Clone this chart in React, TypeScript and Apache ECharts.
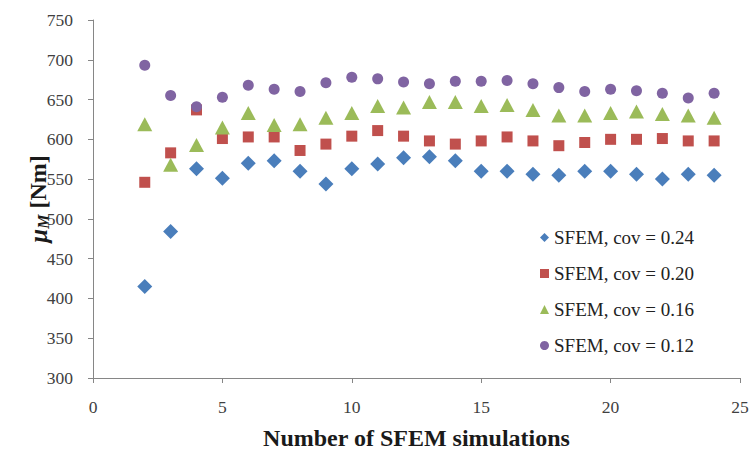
import React, { useEffect, useRef } from "react";
import * as echarts from "echarts";

const simulations = [2, 3, 4, 5, 6, 7, 8, 9, 10, 11, 12, 13, 14, 15, 16, 17, 18, 19, 20, 21, 22, 23, 24];
const cov024 = [415, 484, 563, 551, 570, 573, 560, 544, 563, 569, 577, 578, 573, 560, 560, 556, 555, 560, 560, 556, 550, 556, 555];
const cov020 = [546, 583, 637, 601, 603, 603, 586, 594, 604, 611, 604, 598, 594, 598, 603, 598, 592, 596, 600, 600, 601, 598, 598];
const cov016 = [619, 568, 593, 615, 633, 618, 619, 627, 633, 642, 640, 647, 647, 642, 643, 637, 630, 630, 633, 635, 632, 630, 627];
const cov012 = [693, 655, 641, 653, 668, 663, 660, 671, 678, 676, 672, 670, 673, 673, 674, 670, 665, 660, 663, 661, 658, 652, 658];

const seriesNames = ["SFEM, cov = 0.24", "SFEM, cov = 0.20", "SFEM, cov = 0.16", "SFEM, cov = 0.12"];
const xTicks = [0, 5, 10, 15, 20, 25];
const yTicks = [300, 350, 400, 450, 500, 550, 600, 650, 700, 750];

const FONT = "'Liberation Serif', 'DejaVu Serif', serif";

export default function App() {
  const ref = useRef<HTMLDivElement>(null);
  useEffect(() => {
    if (!ref.current) return;
    const chart = echarts.init(ref.current, null, { renderer: "svg" });
    const pairs = (ys: number[]) => simulations.map((x, i) => [x, ys[i]]);
    const defs = [
      { name: seriesNames[0], data: cov024, symbol: "diamond", size: 15, color: "#4A7EBB" },
      { name: seriesNames[1], data: cov020, symbol: "rect", size: 11, color: "#C0504D" },
      { name: seriesNames[2], data: cov016, symbol: "triangle", size: [15, 14], color: "#9BBB59" },
      { name: seriesNames[3], data: cov012, symbol: "circle", size: 11, color: "#8064A2" },
    ];
    chart.setOption({
      animation: false,
      grid: { left: 93, right: 11, top: 20, bottom: 72, outerBoundsMode: "none", containLabel: false },
      legend: {
        orient: "vertical",
        left: 535,
        top: 223,
        itemWidth: 9,
        itemHeight: 9,
        itemGap: 17,
        data: defs.map((d) => ({ name: d.name, icon: d.symbol })),
        textStyle: { fontFamily: FONT, fontSize: 19, color: "#222", lineHeight: 19 },
      },
      xAxis: {
        type: "value",
        min: xTicks[0],
        max: xTicks[xTicks.length - 1],
        interval: 5,
        splitLine: { show: false },
        axisLine: { lineStyle: { color: "#868686", width: 1 } },
        axisTick: { show: true, length: 5, lineStyle: { color: "#868686" } },
        axisLabel: { margin: 20, fontFamily: FONT, fontSize: 17.5, color: "#404040" },
        name: "Number of SFEM simulations",
        nameLocation: "middle",
        nameGap: 48,
        nameTextStyle: { fontFamily: FONT, fontSize: 24, fontWeight: "bold", color: "#1a1a1a" },
      },
      yAxis: {
        type: "value",
        min: yTicks[0],
        max: yTicks[yTicks.length - 1],
        interval: 50,
        splitLine: { show: false },
        axisLine: { show: true, lineStyle: { color: "#868686", width: 1 } },
        axisTick: { show: true, length: 5, lineStyle: { color: "#868686" } },
        axisLabel: { margin: 20, fontFamily: FONT, fontSize: 17.5, color: "#404040" },
        name: "{mu|μ}{sub|M}{rest| [Nm]}",
        nameLocation: "middle",
        nameGap: 42,
        nameMoveOverlap: false,
        nameTextStyle: {
          fontFamily: FONT,
          fontSize: 24,
          fontWeight: "bold",
          color: "#1a1a1a",
          rich: {
            mu: { fontFamily: FONT, fontSize: 25, fontWeight: "bold", fontStyle: "italic", color: "#1a1a1a", lineHeight: 26 },
            sub: { fontFamily: FONT, fontSize: 16, fontWeight: "bold", fontStyle: "italic", color: "#1a1a1a", verticalAlign: "bottom", lineHeight: 26, padding: [8, 0, 0, 0] },
            rest: { fontFamily: FONT, fontSize: 24, fontWeight: "bold", color: "#1a1a1a", lineHeight: 26 },
          },
        },
      },
      series: defs.map((d) => ({
        type: "scatter",
        name: d.name,
        data: pairs(d.data),
        symbol: d.symbol,
        symbolSize: d.size,
        itemStyle: { color: d.color, opacity: 1 },
      })),
    });
    return () => chart.dispose();
  }, []);
  return (
    <div
      ref={ref}
      style={{ position: "absolute", left: 0, top: 0, width: 751, height: 450, background: "#fff" }}
    />
  );
}
